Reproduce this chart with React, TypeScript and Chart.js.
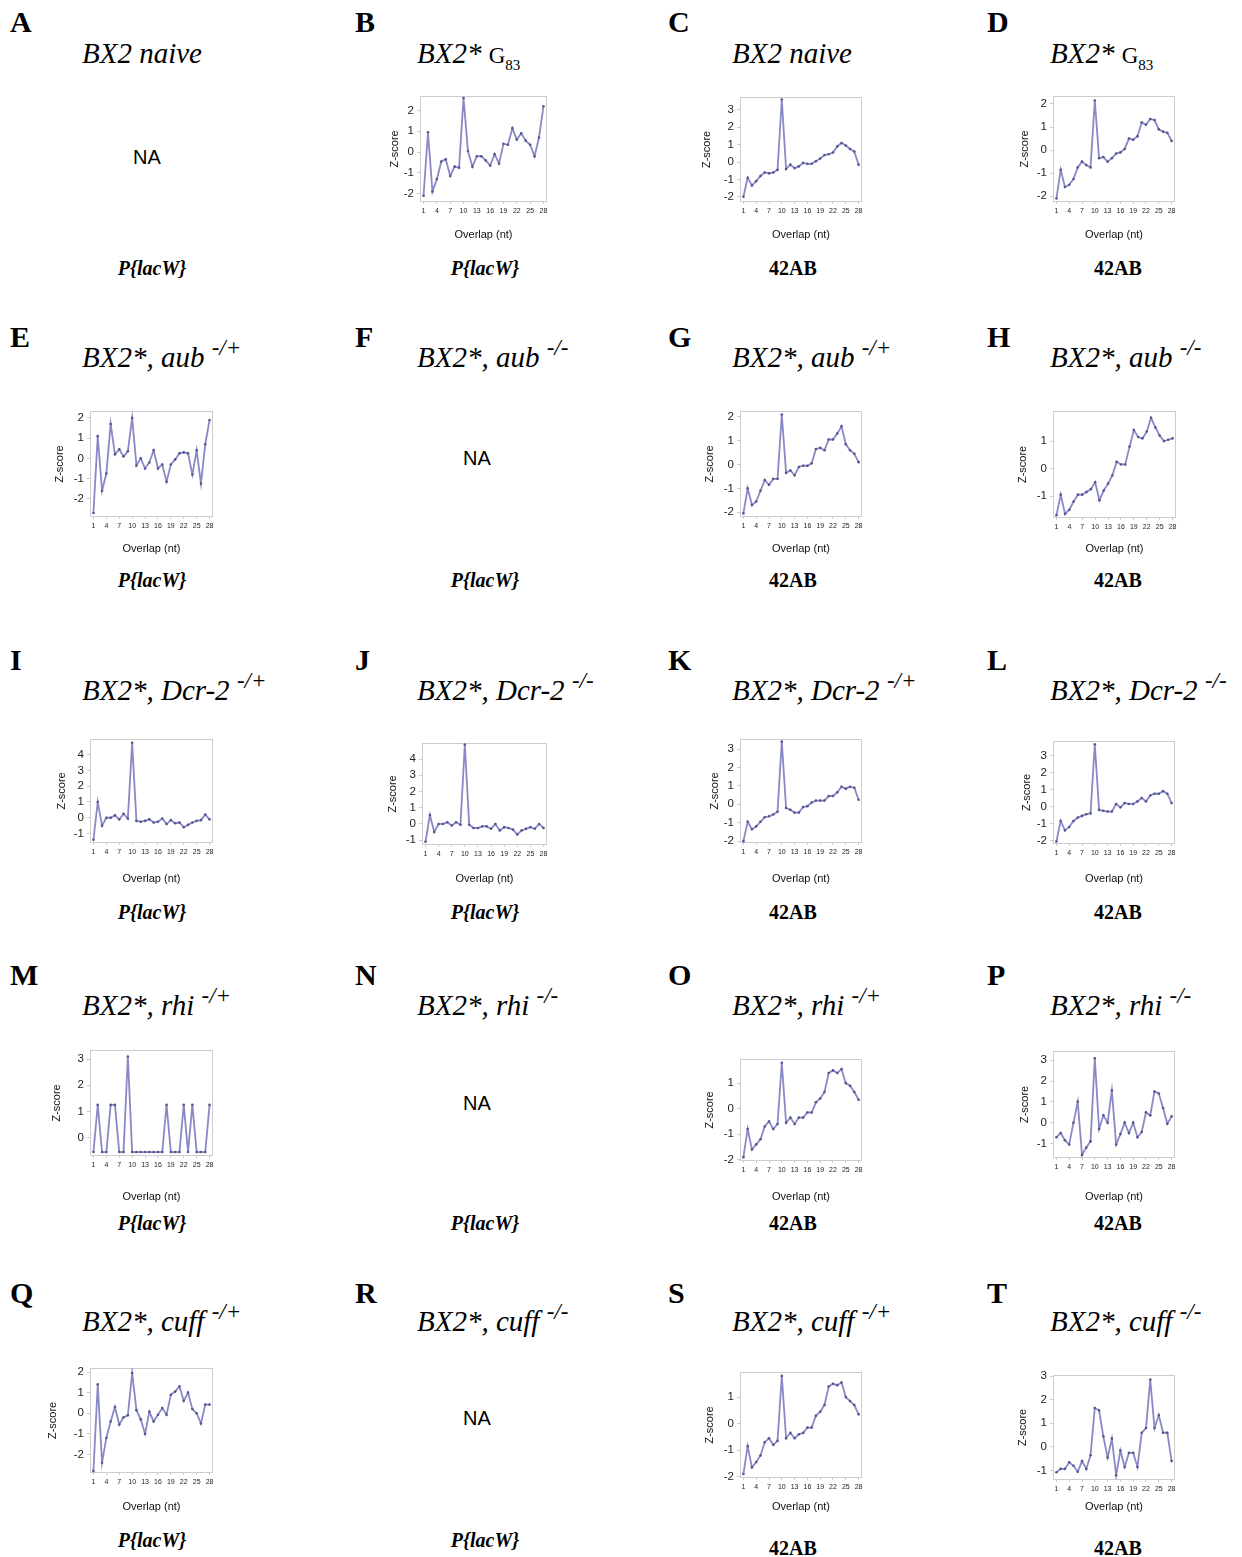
import React, { useEffect, useRef } from 'react';
import { Chart, registerables } from 'chart.js';

Chart.register(...registerables);

// ---------- data ----------
const overlap = [1, 2, 3, 4, 5, 6, 7, 8, 9, 10, 11, 12, 13, 14, 15, 16, 17, 18, 19, 20, 21, 22, 23, 24, 25, 26, 27, 28];
const xTickValues = [1, 4, 7, 10, 13, 16, 19, 22, 25, 28];

const zB = [-2.1, 0.95, -1.9, -1.3, -0.45, -0.35, -1.15, -0.7, -0.75, 2.6, 0.05, -0.7, -0.2, -0.2, -0.4, -0.65, -0.1, -0.55, 0.4, 0.35, 1.15, 0.6, 0.9, 0.55, 0.35, -0.2, 0.7, 2.2];
const zC = [-2.0, -0.9, -1.35, -1.1, -0.8, -0.6, -0.65, -0.6, -0.45, 3.6, -0.4, -0.15, -0.35, -0.25, -0.05, -0.1, -0.1, 0.05, 0.2, 0.4, 0.45, 0.55, 0.9, 1.1, 0.95, 0.75, 0.6, -0.15];
const zD = [-2.1, -0.85, -1.6, -1.5, -1.25, -0.75, -0.5, -0.65, -0.75, 2.15, -0.35, -0.3, -0.5, -0.35, -0.15, -0.1, 0.05, 0.5, 0.45, 0.6, 1.2, 1.1, 1.35, 1.3, 0.9, 0.8, 0.75, 0.4];
const zE = [-2.7, 1.1, -1.6, -0.75, 1.7, 0.2, 0.45, 0.1, 0.35, 2.0, -0.35, 0.0, -0.5, -0.2, 0.4, -0.5, -0.3, -1.15, -0.3, -0.05, 0.25, 0.3, 0.25, -0.8, 0.4, -1.25, 0.7, 1.9];
const zG = [-2.05, -1.0, -1.7, -1.55, -1.1, -0.65, -0.85, -0.6, -0.6, 2.1, -0.35, -0.25, -0.45, -0.1, -0.05, -0.05, 0.05, 0.65, 0.7, 0.6, 1.05, 1.05, 1.3, 1.6, 0.85, 0.6, 0.45, 0.1];
const zH = [-1.7, -0.95, -1.65, -1.5, -1.2, -0.95, -0.95, -0.85, -0.75, -0.5, -1.15, -0.8, -0.55, -0.25, 0.25, 0.15, 0.15, 0.8, 1.4, 1.15, 1.1, 1.35, 1.85, 1.5, 1.2, 1.0, 1.05, 1.1];
const zI = [-1.4, 1.0, -0.5, 0, 0, 0.15, -0.1, 0.25, -0.05, 4.75, -0.2, -0.25, -0.2, -0.1, -0.3, -0.25, -0.05, -0.4, -0.15, -0.35, -0.3, -0.6, -0.45, -0.3, -0.2, -0.15, 0.2, -0.1];
const zJ = [-1.1, 0.55, -0.5, 0, 0, 0.1, -0.1, 0.1, -0.05, 4.9, -0.05, -0.25, -0.25, -0.15, -0.15, -0.3, 0, -0.4, -0.2, -0.25, -0.35, -0.65, -0.4, -0.3, -0.2, -0.3, 0, -0.25];
const zK = [-2.0, -0.95, -1.35, -1.2, -0.95, -0.7, -0.65, -0.55, -0.4, 3.4, -0.2, -0.3, -0.45, -0.45, -0.15, -0.1, 0.1, 0.2, 0.2, 0.2, 0.45, 0.45, 0.65, 0.95, 0.85, 0.95, 0.9, 0.25];
const zL = [-2.05, -0.85, -1.4, -1.2, -0.85, -0.65, -0.55, -0.45, -0.4, 3.65, -0.2, -0.25, -0.3, -0.3, 0.15, -0.05, 0.2, 0.15, 0.15, 0.3, 0.5, 0.3, 0.65, 0.75, 0.75, 0.9, 0.75, 0.2];
const zM = [-0.55, 1.25, -0.55, -0.55, 1.25, 1.25, -0.55, -0.55, 3.1, -0.55, -0.55, -0.55, -0.55, -0.55, -0.55, -0.55, -0.55, 1.25, -0.55, -0.55, -0.55, 1.25, -0.55, 1.25, -0.55, -0.55, -0.55, 1.25];
const zO = [-1.9, -0.8, -1.6, -1.4, -1.2, -0.7, -0.5, -0.8, -0.6, 1.8, -0.55, -0.35, -0.6, -0.35, -0.35, -0.15, -0.15, 0.25, 0.4, 0.65, 1.4, 1.5, 1.4, 1.55, 1.0, 0.9, 0.65, 0.35];
const zP = [-0.7, -0.5, -0.85, -1.05, 0, 1.0, -1.55, -1.2, -0.9, 3.1, -0.3, 0.35, 0, 1.55, -1.05, -0.55, 0, -0.5, 0, -0.7, -0.45, 0.5, 0.35, 1.5, 1.4, 0.7, -0.05, 0.3];
const zQ = [-2.8, 1.4, -2.4, -1.2, -0.4, 0.3, -0.55, -0.2, -0.1, 1.95, 0.15, -0.3, -1.0, 0.07, -0.4, -0.07, 0.25, -0.07, 0.9, 1.05, 1.3, 0.6, 1.0, 0.2, 0.0, -0.5, 0.42, 0.42];
const zS = [-1.9, -0.85, -1.65, -1.45, -1.2, -0.7, -0.55, -0.8, -0.65, 1.8, -0.55, -0.35, -0.55, -0.4, -0.35, -0.15, -0.15, 0.3, 0.45, 0.7, 1.4, 1.5, 1.45, 1.55, 1.0, 0.85, 0.7, 0.35];
const zT = [-1.07, -0.93, -0.93, -0.65, -0.8, -1.05, -0.6, -0.93, -0.35, 1.65, 1.55, 0.45, -0.45, 0.35, -1.2, -0.15, -0.85, -0.25, -0.25, -0.85, 0.6, 0.8, 2.85, 0.8, 1.35, 0.6, 0.6, -0.6];

const ticksM2to2 = [-2, -1, 0, 1, 2];
const ticksM2to3 = [-2, -1, 0, 1, 2, 3];
const ticksM1to1 = [-1, 0, 1];
const ticksM1to4 = [-1, 0, 1, 2, 3, 4];
const ticks0to3 = [0, 1, 2, 3];
const ticksM2to1 = [-2, -1, 0, 1];
const ticksM1to3 = [-1, 0, 1, 2, 3];

// ---------- style ----------
const SERIF = "'Liberation Serif', 'Times New Roman', serif";
const SANS = "'Liberation Sans', Arial, sans-serif";
const LINE_COLOR = 'rgba(116,116,188,0.85)';
const POINT_COLOR = '#55558f';

const boxPlugin = {
  id: 'plotBox',
  beforeDatasetsDraw(chart: any) {
    const { ctx, chartArea } = chart;
    const { left, top, right, bottom } = chartArea;
    ctx.save();
    ctx.strokeStyle = '#cdcdcd';
    ctx.lineWidth = 1;
    ctx.strokeRect(Math.round(left) + 0.5, Math.round(top) + 0.5, Math.round(right - left) - 1, Math.round(bottom - top) - 1);
    ctx.restore();
  },
};

type Geo = { L: number; T: number; R: number; B: number; xt: number; zx: number };

function ZChart({ g, values, yMin, yMax, yTicks }: { g: Geo; values: number[]; yMin: number; yMax: number; yTicks: number[] }) {
  const ref = useRef<HTMLCanvasElement>(null);
  const left = Math.round(g.zx - 7);
  const top = g.T - 4;
  const width = g.R + 4 - left;
  const height = g.xt + 7 - top;
  useEffect(() => {
    const chart = new Chart(ref.current as HTMLCanvasElement, {
      type: 'line',
      data: {
        datasets: [
          {
            data: overlap.map((x, i) => ({ x, y: values[i] })),
            borderColor: LINE_COLOR,
            borderWidth: 1.8,
            pointRadius: 1.3,
            pointBackgroundColor: POINT_COLOR,
            pointBorderWidth: 0,
            tension: 0,
          },
        ],
      },
      options: {
        animation: false,
        responsive: false,
        maintainAspectRatio: false,
        layout: { padding: { top: 4, right: 4, left: 0, bottom: 0 } },
        plugins: { legend: { display: false }, tooltip: { enabled: false } },
        scales: {
          x: {
            type: 'linear',
            min: 0.2,
            max: 28.8,
            border: { display: false },
            grid: { display: true, drawOnChartArea: false, drawTicks: true, tickLength: 2, color: '#cdcdcd' },
            afterBuildTicks: (s: any) => {
              s.ticks = xTickValues.map((v) => ({ value: v }));
            },
            afterFit: (s: any) => {
              s.height = g.xt + 7 - g.B;
            },
            ticks: {
              autoSkip: false,
              maxRotation: 0,
              minRotation: 0,
              padding: 3,
              color: '#222',
              font: { size: 7, family: SANS },
              callback: (v: any) => String(v),
            },
            title: { display: true, text: 'Overlap (nt)', color: '#111', padding: 0, font: { size: 11, family: SANS } },
          },
          y: {
            type: 'linear',
            min: yMin,
            max: yMax,
            border: { display: false },
            grid: { display: true, drawOnChartArea: false, drawTicks: true, tickLength: 3, color: '#cdcdcd' },
            afterBuildTicks: (s: any) => {
              s.ticks = yTicks.map((v) => ({ value: v }));
            },
            afterFit: (s: any) => {
              s.width = g.L - left;
            },
            ticks: {
              padding: 3,
              color: '#222',
              font: { size: 11.5, family: SANS },
              callback: (v: any) => String(v),
            },
            title: { display: true, text: 'Z-score', color: '#111', padding: 0, font: { size: 11, family: SANS } },
          },
        },
      },
      plugins: [boxPlugin],
    } as any);
    return () => chart.destroy();
  }, []);
  return <canvas ref={ref} width={width} height={height} style={{ position: 'absolute', left, top, width, height }} />;
}

// ---------- layout ----------
const colLetterX = [10, 355, 668, 987];
const colTitleX = [82, 417, 732, 1050];
const colLabelX = [152, 485, 793, 1118];
const rowLetterY = [22, 337, 660, 975, 1293];
const rowTitleY = [54, 358, 691, 1006, 1322];
const rowLabelY = [
  [268, 268, 268, 268],
  [580, 580, 580, 580],
  [912, 912, 912, 912],
  [1223, 1223, 1223, 1223],
  [1540, 1540, 1548, 1548],
];
const letters = [
  ['A', 'B', 'C', 'D'],
  ['E', 'F', 'G', 'H'],
  ['I', 'J', 'K', 'L'],
  ['M', 'N', 'O', 'P'],
  ['Q', 'R', 'S', 'T'],
];
const genes = ['aub', 'Dcr-2', 'rhi', 'cuff'];

function Letter({ x, y, t }: { x: number; y: number; t: string }) {
  return (
    <div style={{ position: 'absolute', left: x, top: y - 15, fontFamily: SERIF, fontWeight: 'bold', fontSize: 30, lineHeight: '30px' }}>{t}</div>
  );
}

function Title({ x, y, row, col }: { x: number; y: number; row: number; col: number }) {
  let content: any;
  if (row === 0) {
    if (col === 0 || col === 2) {
      content = <i>BX2 naive</i>;
    } else {
      content = (
        <>
          <i>BX2*</i>{' '}
          <span style={{ fontStyle: 'normal', fontSize: 23 }}>
            G<span style={{ fontSize: 15, position: 'relative', top: 7 }}>83</span>
          </span>
        </>
      );
    }
  } else {
    const sup = col % 2 === 0 ? '-/+' : '-/-';
    content = (
      <>
        <i>BX2*, {genes[row - 1]}</i>{' '}
        <span style={{ fontStyle: 'italic', fontSize: 23, position: 'relative', top: -12 }}>{sup}</span>
      </>
    );
  }
  return (
    <div style={{ position: 'absolute', left: x, top: y - 15, fontFamily: SERIF, fontSize: 29, lineHeight: '29px', whiteSpace: 'nowrap' }}>
      {content}
    </div>
  );
}

function BottomLabel({ x, y, col }: { x: number; y: number; col: number }) {
  const isLac = col < 2;
  return (
    <div
      style={{
        position: 'absolute',
        left: x,
        top: y,
        transform: 'translate(-50%, -50%)',
        fontFamily: SERIF,
        fontWeight: 'bold',
        fontStyle: isLac ? 'italic' : 'normal',
        fontSize: 20,
        lineHeight: '20px',
        whiteSpace: 'nowrap',
      }}
    >
      {isLac ? 'P{lacW}' : '42AB'}
    </div>
  );
}

function NA({ x, y }: { x: number; y: number }) {
  return (
    <div style={{ position: 'absolute', left: x, top: y, transform: 'translate(-50%, -50%)', fontFamily: SANS, fontSize: 20, lineHeight: '20px' }}>NA</div>
  );
}

const charts: { key: string; g: Geo; values: number[]; yMin: number; yMax: number; yTicks: number[] }[] = [
  { key: 'B', g: { L: 420, T: 90, R: 547, B: 202, xt: 235, zx: 395 }, values: zB, yMin: -2.4, yMax: 2.7, yTicks: ticksM2to2 },
  { key: 'C', g: { L: 740, T: 91, R: 862, B: 202, xt: 235, zx: 707 }, values: zC, yMin: -2.3, yMax: 3.75, yTicks: ticksM2to3 },
  { key: 'D', g: { L: 1053, T: 90, R: 1175, B: 202, xt: 235, zx: 1025 }, values: zD, yMin: -2.25, yMax: 2.35, yTicks: ticksM2to2 },
  { key: 'E', g: { L: 90, T: 405, R: 213, B: 517, xt: 549, zx: 60 }, values: zE, yMin: -2.9, yMax: 2.35, yTicks: ticksM2to2 },
  { key: 'G', g: { L: 740, T: 405, R: 862, B: 517, xt: 549, zx: 710 }, values: zG, yMin: -2.2, yMax: 2.25, yTicks: ticksM2to2 },
  { key: 'H', g: { L: 1053, T: 405, R: 1176, B: 518, xt: 549, zx: 1023 }, values: zH, yMin: -1.8, yMax: 2.1, yTicks: ticksM1to1 },
  { key: 'I', g: { L: 90, T: 733, R: 213, B: 843, xt: 879, zx: 62 }, values: zI, yMin: -1.6, yMax: 5.0, yTicks: ticksM1to4 },
  { key: 'J', g: { L: 422, T: 737, R: 547, B: 845, xt: 879, zx: 393 }, values: zJ, yMin: -1.3, yMax: 5.0, yTicks: ticksM1to4 },
  { key: 'K', g: { L: 740, T: 733, R: 862, B: 843, xt: 879, zx: 715 }, values: zK, yMin: -2.1, yMax: 3.55, yTicks: ticksM2to3 },
  { key: 'L', g: { L: 1053, T: 735, R: 1175, B: 844, xt: 879, zx: 1027 }, values: zL, yMin: -2.2, yMax: 3.85, yTicks: ticksM2to3 },
  { key: 'M', g: { L: 90, T: 1044, R: 213, B: 1156, xt: 1197, zx: 57 }, values: zM, yMin: -0.7, yMax: 3.35, yTicks: ticks0to3 },
  { key: 'O', g: { L: 740, T: 1053, R: 862, B: 1161, xt: 1197, zx: 710 }, values: zO, yMin: -2.05, yMax: 1.95, yTicks: ticksM2to1 },
  { key: 'P', g: { L: 1053, T: 1045, R: 1175, B: 1158, xt: 1197, zx: 1025 }, values: zP, yMin: -1.7, yMax: 3.45, yTicks: ticksM1to3 },
  { key: 'Q', g: { L: 90, T: 1362, R: 213, B: 1473, xt: 1507, zx: 53 }, values: zQ, yMin: -2.9, yMax: 2.2, yTicks: ticksM2to2 },
  { key: 'S', g: { L: 740, T: 1366, R: 862, B: 1478, xt: 1507, zx: 710 }, values: zS, yMin: -2.05, yMax: 1.95, yTicks: ticksM2to1 },
  { key: 'T', g: { L: 1053, T: 1369, R: 1175, B: 1480, xt: 1507, zx: 1023 }, values: zT, yMin: -1.4, yMax: 3.05, yTicks: ticksM1to3 },
];

const naPanels = [
  { x: 147, y: 157 },
  { x: 477, y: 458 },
  { x: 477, y: 1103 },
  { x: 477, y: 1418 },
];

export default function App() {
  const items: any[] = [];
  for (let r = 0; r < 5; r++) {
    for (let c = 0; c < 4; c++) {
      items.push(<Letter key={`l${r}${c}`} x={colLetterX[c]} y={rowLetterY[r]} t={letters[r][c]} />);
      items.push(<Title key={`t${r}${c}`} x={colTitleX[c]} y={rowTitleY[r]} row={r} col={c} />);
      items.push(<BottomLabel key={`b${r}${c}`} x={colLabelX[c]} y={rowLabelY[r][c]} col={c} />);
    }
  }
  return (
    <div style={{ position: 'absolute', left: 0, top: 0, width: 1242, height: 1557, background: '#fff', overflow: 'hidden', color: '#000' }}>
      {items}
      {naPanels.map((p, i) => (
        <NA key={`na${i}`} x={p.x} y={p.y} />
      ))}
      {charts.map((ch) => (
        <ZChart key={ch.key} g={ch.g} values={ch.values} yMin={ch.yMin} yMax={ch.yMax} yTicks={ch.yTicks} />
      ))}
    </div>
  );
}
